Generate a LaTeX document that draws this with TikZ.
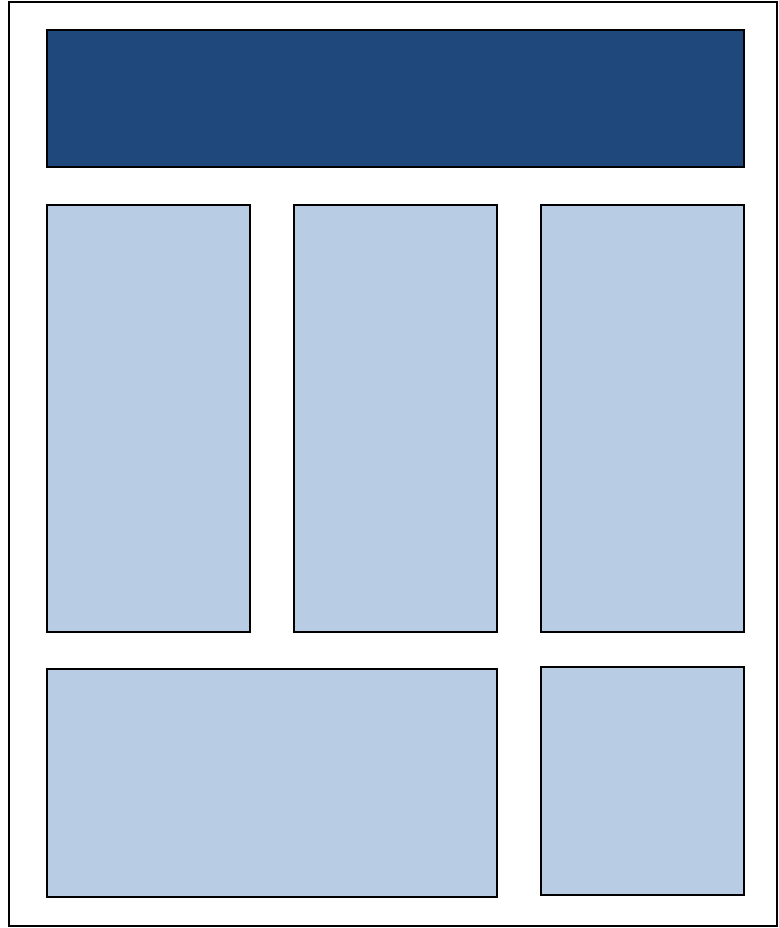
\documentclass[tikz,border=0pt]{standalone}
\definecolor{headblue}{HTML}{1F497D}
\definecolor{panelblue}{HTML}{B8CCE4}
\tikzset{
    panel/.style={draw=black, line width=0.8pt, fill=panelblue},
    header/.style={draw=black, line width=0.8pt, fill=headblue}
}
\begin{document}
\begin{tikzpicture}[x=0.5pt, y=-0.5pt]
    \useasboundingbox (0, 0) rectangle (778, 928);
    % outer frame
    \draw[line width=1pt] (9, 2) rectangle (777, 926);
    
    % header
    \draw[header] (47, 30) rectangle (744, 167);
    
    % middle row
    \draw[panel] (47, 205) rectangle (250, 632);
    \draw[panel] (294, 205) rectangle (497, 632);
    \draw[panel] (541, 205) rectangle (744, 632);
    
    % bottom row
    \draw[panel] (47, 669) rectangle (497, 897);
    \draw[panel] (541, 667) rectangle (744, 895);
\end{tikzpicture}
\end{document}
